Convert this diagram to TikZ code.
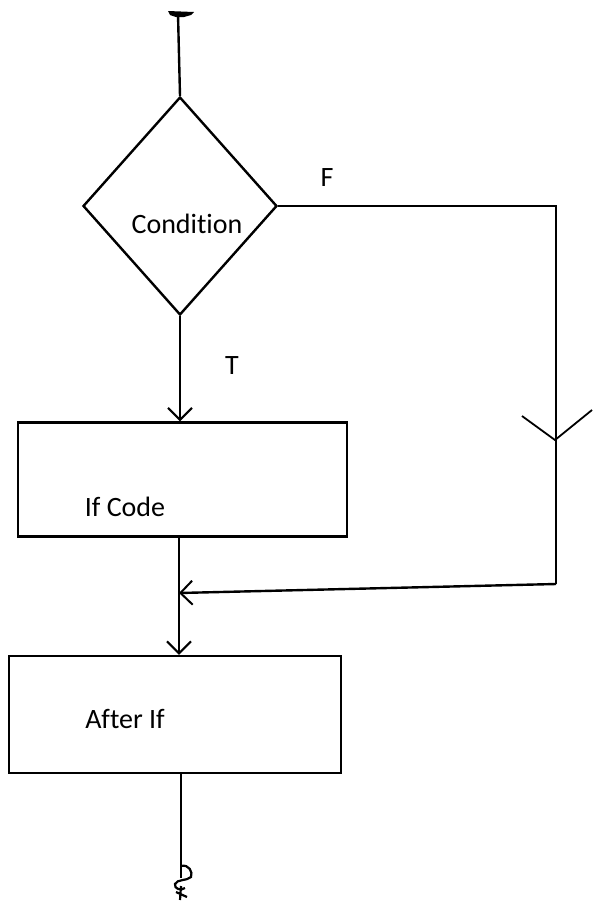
\documentclass[tikz,border=0pt]{standalone}
\usepackage{fontspec}
\setmainfont[Ligatures=NoCommon]{Carlito}
\usetikzlibrary{shapes.geometric,arrows.meta,calc}
\begin{document}
\begin{tikzpicture}[x=1pt,y=-1pt,
  line width=2.4pt,
  txt/.style={font=\fontsize{28}{32}\selectfont, inner sep=0pt},
  boxnode/.style={draw, rectangle, inner sep=0pt},
  decision/.style={draw, diamond, inner sep=0pt, minimum width=194pt, minimum height=218pt},
  arr/.style={-{Straight Barb[length=12pt,width=24pt,line width=2pt]}}]
\useasboundingbox (0,0) rectangle (594,905);
% shapes
\node[decision] (cond) at (180,206) {};
\node[txt] (condtxt) at (187,224) {Condit\kern0pt ion};
\node[boxnode, minimum width=329pt, minimum height=114pt] (ifcode) at (182.5,479.5) {};
\node[txt] (iftxt) at (125,507) {If Code};
\node[boxnode, minimum width=332pt, minimum height=117pt] (after) at (175,714.5) {};
\node[txt] (aftertxt) at (125,719) {After If};
\node[txt] (F) at (327,178) {F};
\node[txt] (T) at (232,366) {T};
% coordinates
\coordinate (start) at (178,14);
\coordinate (endp) at (181,878);
\coordinate (c1) at (556,206);
\coordinate (c2) at (556,584);
\coordinate (merge) at (179,593);
\coordinate (vmark) at (555,440);
% connectors
\draw (start) -- (cond.north);
\fill (168,11) -- (194,12) -- (191,15) -- (184,17) -- (176,17) -- (170,15) -- cycle;
\draw[arr] (cond.south) -- (cond.south |- ifcode.north);
\draw (ifcode.south -| merge) -- (merge);
\draw[arr] (merge) -- (merge |- after.north);
\draw (cond.east) -- (c1) -- (c2);
\draw[arr] (c2) -- (merge);
\draw[line width=1.8pt] ($(vmark)+(-33,-24)$) -- (vmark) -- ($(vmark)+(37,-30)$);
\draw (after.south -| endp) -- (endp);
\draw[line width=2.2pt] (181,866) .. controls (189,864) and (193,872) .. (191,877)
  .. controls (187,881) and (177,879) .. (175,884) .. controls (174,889) and (181,891) .. (185,888)
  (176,892) -- (187,897) (181,886) -- (180,900);
\end{tikzpicture}
\end{document}
